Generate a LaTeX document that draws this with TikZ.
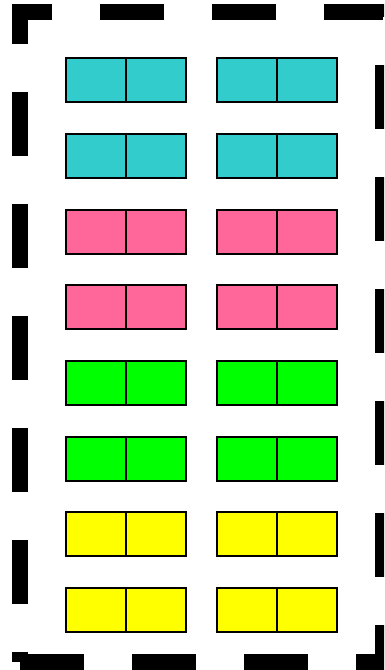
\documentclass[tikz,border=0pt]{standalone}
\usepackage{tikz}
\usetikzlibrary{positioning}

\definecolor{boxteal}{HTML}{33CCCC}
\definecolor{boxpink}{HTML}{FF6699}
\definecolor{boxgreen}{HTML}{00FF00}
\definecolor{boxyellow}{HTML}{FFFF00}

\begin{document}
\begin{tikzpicture}[
	x=1pt, y=1pt,
	cell/.style={
		draw=black,
		line width=2pt,
		minimum width=60pt,
		minimum height=44pt,
		inner sep=0pt,
		outer sep=0pt
	},
	tealcell/.style={cell, fill=boxteal},
	pinkcell/.style={cell, fill=boxpink},
	greencell/.style={cell, fill=boxgreen},
	yellowcell/.style={cell, fill=boxyellow},
	frame/.style={
		draw=black,
		line width=16pt,
		dash pattern=on 64pt off 48pt
	}
	]

	\useasboundingbox (0,0) rectangle (384,670);
	\clip (0,0) rectangle (384,670);

	%------------------------------------------------
	% DASHED FRAME
	%------------------------------------------------

	\coordinate (tltop) at (20,666);
	\coordinate (tl) at (20,658);
	\coordinate (tr) at (383,658);
	\coordinate (br) at (383,8);
	\coordinate (bl) at (20,8);

	\draw[frame, dash phase=32pt] (tl) -- (tr) -- (br) -- (bl);
	\draw[frame, dash phase=24pt] (tltop) -- (bl);

	%------------------------------------------------
	% ROWS 1-2 (teal)
	%------------------------------------------------

	\node[tealcell] (L1a) at (96,589.7) {};
	\node[tealcell, right=0pt of L1a] (L1b) {};
	\node[tealcell, right=31pt of L1b] (R1a) {};
	\node[tealcell, right=0pt of R1a] (R1b) {};

	\node[tealcell, below=31.7pt of L1a] (L2a) {};
	\node[tealcell, right=0pt of L2a] (L2b) {};
	\node[tealcell, right=31pt of L2b] (R2a) {};
	\node[tealcell, right=0pt of R2a] (R2b) {};

	%------------------------------------------------
	% ROWS 3-4 (pink)
	%------------------------------------------------

	\node[pinkcell, below=31.7pt of L2a] (L3a) {};
	\node[pinkcell, right=0pt of L3a] (L3b) {};
	\node[pinkcell, right=31pt of L3b] (R3a) {};
	\node[pinkcell, right=0pt of R3a] (R3b) {};

	\node[pinkcell, below=31.7pt of L3a] (L4a) {};
	\node[pinkcell, right=0pt of L4a] (L4b) {};
	\node[pinkcell, right=31pt of L4b] (R4a) {};
	\node[pinkcell, right=0pt of R4a] (R4b) {};

	%------------------------------------------------
	% ROWS 5-6 (green)
	%------------------------------------------------

	\node[greencell, below=31.7pt of L4a] (L5a) {};
	\node[greencell, right=0pt of L5a] (L5b) {};
	\node[greencell, right=31pt of L5b] (R5a) {};
	\node[greencell, right=0pt of R5a] (R5b) {};

	\node[greencell, below=31.7pt of L5a] (L6a) {};
	\node[greencell, right=0pt of L6a] (L6b) {};
	\node[greencell, right=31pt of L6b] (R6a) {};
	\node[greencell, right=0pt of R6a] (R6b) {};

	%------------------------------------------------
	% ROWS 7-8 (yellow)
	%------------------------------------------------

	\node[yellowcell, below=31.7pt of L6a] (L7a) {};
	\node[yellowcell, right=0pt of L7a] (L7b) {};
	\node[yellowcell, right=31pt of L7b] (R7a) {};
	\node[yellowcell, right=0pt of R7a] (R7b) {};

	\node[yellowcell, below=31.7pt of L7a] (L8a) {};
	\node[yellowcell, right=0pt of L8a] (L8b) {};
	\node[yellowcell, right=31pt of L8b] (R8a) {};
	\node[yellowcell, right=0pt of R8a] (R8b) {};

\end{tikzpicture}
\end{document}
